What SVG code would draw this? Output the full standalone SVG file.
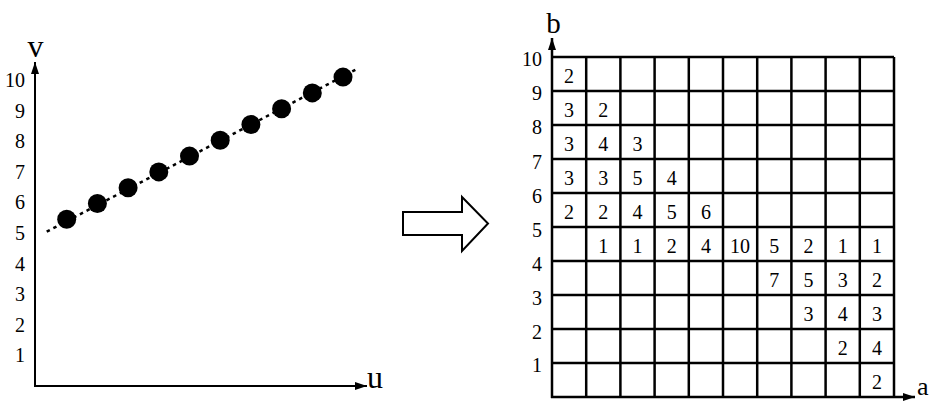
<svg xmlns="http://www.w3.org/2000/svg" width="933" height="402" viewBox="0 0 933 402">
<style>
text{font-family:"Liberation Serif","Times New Roman",serif;fill:#000}
.lbl{font-size:20px;text-anchor:end}
.cell{font-size:20px;text-anchor:middle}
.ax{font-size:32px}
.axis{stroke:#000;stroke-width:2;fill:none}
.grid{stroke:#000;stroke-width:2.5;fill:none}
.dot{fill:#000}
</style>
<defs>
<marker id="ah" viewBox="0 0 12 8" refX="12" refY="4" markerWidth="12" markerHeight="8" markerUnits="userSpaceOnUse" orient="auto">
<path d="M0,0 L12,4 L0,8 Z" fill="#000"/>
</marker>
</defs>

<g id="left-plot">
<line class="axis" x1="35" y1="387" x2="35" y2="62" marker-end="url(#ah)"/>
<line class="axis" x1="34" y1="386" x2="367" y2="386" marker-end="url(#ah)"/>
<text class="ax" x="35.5" y="57" text-anchor="middle">v</text>
<text class="ax" x="367" y="388">u</text>
<g>
<text class="lbl" x="25" y="87">10</text>
<text class="lbl" x="25" y="118">9</text>
<text class="lbl" x="25" y="148">8</text>
<text class="lbl" x="25" y="179">7</text>
<text class="lbl" x="25" y="209">6</text>
<text class="lbl" x="25" y="240">5</text>
<text class="lbl" x="25" y="271">4</text>
<text class="lbl" x="25" y="301">3</text>
<text class="lbl" x="25" y="332">2</text>
<text class="lbl" x="25" y="362">1</text>
</g>
<line x1="46.7" y1="231.7" x2="358.3" y2="68.3" stroke="#000" stroke-width="2.5" stroke-dasharray="3.5,4"/>
<g>
<circle class="dot" cx="66.7" cy="219.3" r="9.5"/>
<circle class="dot" cx="97.4" cy="203.5" r="9.5"/>
<circle class="dot" cx="128.1" cy="187.7" r="9.5"/>
<circle class="dot" cx="158.8" cy="171.9" r="9.5"/>
<circle class="dot" cx="189.5" cy="156.1" r="9.5"/>
<circle class="dot" cx="220.2" cy="140.3" r="9.5"/>
<circle class="dot" cx="250.9" cy="124.5" r="9.5"/>
<circle class="dot" cx="281.6" cy="108.7" r="9.5"/>
<circle class="dot" cx="312.3" cy="92.9" r="9.5"/>
<circle class="dot" cx="343" cy="77.1" r="9.5"/>
</g>
</g>

<g id="transform-arrow">
<polygon points="403,212 462,212 462,197 488,223.5 462,251 462,235 403,235" fill="#fff" stroke="#000" stroke-width="2" stroke-linejoin="miter"/>
</g>

<g id="accumulator-grid">
<path class="grid" d="M552,57H894 M552,91H894 M552,125H894 M552,159H894 M552,193H894 M552,227H894 M552,261H894 M552,295H894 M552,329H894 M552,363H894
M586.2,57V397 M620.4,57V397 M654.6,57V397 M688.8,57V397 M723,57V397 M757.2,57V397 M791.4,57V397 M825.6,57V397 M859.8,57V397 M894,57V397"/>
<line class="grid" x1="552" y1="398" x2="552" y2="38" marker-end="url(#ah)"/>
<line class="grid" x1="551" y1="397" x2="915" y2="397" marker-end="url(#ah)"/>
<text x="553.5" y="33" font-size="29" text-anchor="middle">b</text>
<text x="917" y="395" font-size="26">a</text>
<g>
<text class="lbl" x="542" y="66">10</text>
<text class="lbl" x="542" y="100">9</text>
<text class="lbl" x="542" y="134">8</text>
<text class="lbl" x="542" y="169">7</text>
<text class="lbl" x="542" y="203">6</text>
<text class="lbl" x="542" y="237">5</text>
<text class="lbl" x="542" y="271">4</text>
<text class="lbl" x="542" y="305">3</text>
<text class="lbl" x="542" y="339">2</text>
<text class="lbl" x="542" y="372">1</text>
</g>
<g>
<text class="cell" x="569.1" y="83">2</text>
<text class="cell" x="569.1" y="117">3</text>
<text class="cell" x="603.3" y="117">2</text>
<text class="cell" x="569.1" y="151">3</text>
<text class="cell" x="603.3" y="151">4</text>
<text class="cell" x="637.5" y="151">3</text>
<text class="cell" x="569.1" y="185">3</text>
<text class="cell" x="603.3" y="185">3</text>
<text class="cell" x="637.5" y="185">5</text>
<text class="cell" x="671.7" y="185">4</text>
<text class="cell" x="569.1" y="219">2</text>
<text class="cell" x="603.3" y="219">2</text>
<text class="cell" x="637.5" y="219">4</text>
<text class="cell" x="671.7" y="219">5</text>
<text class="cell" x="705.9" y="219">6</text>
<text class="cell" x="603.3" y="253">1</text>
<text class="cell" x="637.5" y="253">1</text>
<text class="cell" x="671.7" y="253">2</text>
<text class="cell" x="705.9" y="253">4</text>
<text class="cell" x="740.1" y="253">10</text>
<text class="cell" x="774.3" y="253">5</text>
<text class="cell" x="808.5" y="253">2</text>
<text class="cell" x="842.7" y="253">1</text>
<text class="cell" x="876.9" y="253">1</text>
<text class="cell" x="774.3" y="287">7</text>
<text class="cell" x="808.5" y="287">5</text>
<text class="cell" x="842.7" y="287">3</text>
<text class="cell" x="876.9" y="287">2</text>
<text class="cell" x="808.5" y="321">3</text>
<text class="cell" x="842.7" y="321">4</text>
<text class="cell" x="876.9" y="321">3</text>
<text class="cell" x="842.7" y="355">2</text>
<text class="cell" x="876.9" y="355">4</text>
<text class="cell" x="876.9" y="389">2</text>
</g>
</g>
</svg>
